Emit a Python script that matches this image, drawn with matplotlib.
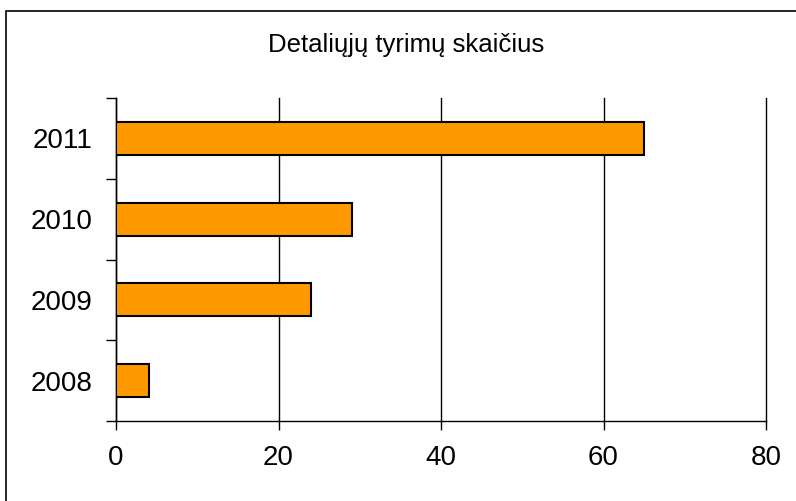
import matplotlib
matplotlib.use("Agg")
import matplotlib.pyplot as plt
from matplotlib.patches import Rectangle

years = ["2008", "2009", "2010", "2011"]
counts = [4, 24, 29, 65]
xticks = [0, 20, 40, 60, 80]

plt.rcParams['font.family'] = ['Liberation Sans', 'DejaVu Sans']

fig = plt.figure(figsize=(7.96, 5.01), dpi=100)
# ramka aplink diagrama (desine ir apacia uz paveikslo ribu)
fig.patches.append(Rectangle((6 / 796, -10 / 501), 800 / 796, 500 / 501, transform=fig.transFigure,
                             fill=False, edgecolor="black", linewidth=1.2))

ax = fig.add_axes([116 / 796, 80 / 501, 650 / 796, 323 / 501])
pos = range(len(years))
ax.barh(pos, counts, height=0.41, color="#FF9900", edgecolor="black", linewidth=1.5, zorder=3)

ax.set_xlim(0, 80)
ax.set_ylim(-0.5, len(years) - 0.5)
ax.set_xticks(xticks)
ax.set_xticklabels([str(t) for t in xticks], fontsize=20)
ax.set_yticks(list(pos))
ax.set_yticklabels(years, fontsize=20)
ax.tick_params(axis="y", length=0, pad=17)
ax.tick_params(axis="x", length=6.5, width=1, pad=11, direction="out")
# y asies padalos tarp kategoriju
ax.set_yticks([i - 0.5 for i in range(len(years) + 1)], minor=True)
ax.tick_params(axis="y", which="minor", length=7, width=1)

ax.grid(axis="x", color="black", linewidth=1)
for gl in ax.get_xgridlines():
    gl.set_clip_on(False)
ax.spines["top"].set_visible(False)
ax.spines["right"].set_visible(False)
ax.spines["left"].set_linewidth(1)
ax.spines["bottom"].set_linewidth(1)

fig.text(406 / 796, 1 - 52 / 501, "Detaliųjų tyrimų skaičius", ha="center", va="baseline", fontsize=18.5)

fig.savefig("out.png", dpi=100)
